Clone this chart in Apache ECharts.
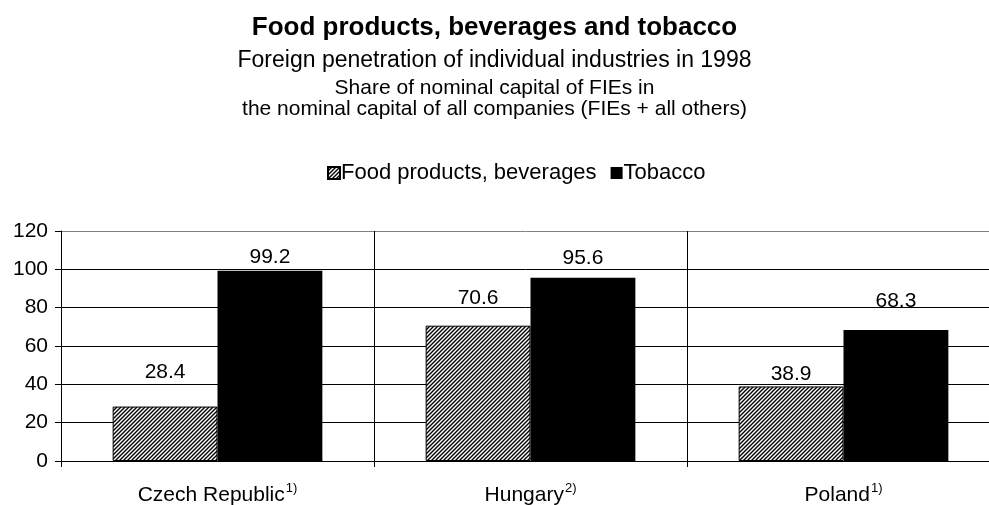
<!DOCTYPE html>
<html>
<head>
<meta charset="utf-8">
<script src="https://cdn.jsdelivr.net/npm/echarts@6/dist/echarts.min.js"></script>
<style>
  html, body { margin: 0; padding: 0; background: #fff; }
  #chart { width: 989px; height: 505px; }
</style>
</head>
<body>
<div id="chart"></div>
<script>
// Countries with their footnote markers
const countries = ['Czech Republic', 'Hungary', 'Poland'];
const footnotes = ['1)', '2)', '1)'];

// Share of nominal capital of FIEs (%)
const foodValues = [28.4, 70.6, 38.9];
const tobaccoValues = [99.2, 95.6, 68.3];

const yTicks = [0, 20, 40, 60, 80, 100, 120];

// Label offsets above each bar (px)
const foodLabelGap = [24, 17, 2];
const tobaccoLabelGap = [3, 9, 18];

// Diagonal hatch fill used for the food series
function hatchPattern() {
  const c = document.createElement('canvas');
  c.width = 4; c.height = 4;
  const ctx = c.getContext('2d');
  ctx.fillStyle = '#fff';
  ctx.fillRect(0, 0, 4, 4);
  ctx.strokeStyle = '#000';
  ctx.lineWidth = 1.4;
  ctx.beginPath();
  ctx.moveTo(-1, 5); ctx.lineTo(5, -1);
  ctx.moveTo(-1, 1); ctx.lineTo(1, -1);
  ctx.moveTo(3, 5); ctx.lineTo(5, 3);
  ctx.stroke();
  return c;
}
const hatch = { image: hatchPattern(), repeat: 'repeat' };

const FONT = 'Liberation Sans, Arial, sans-serif';
const TXT = 21;

function withLabelGaps(values, gaps) {
  return values.map((v, i) => ({ value: v, label: { distance: gaps[i] } }));
}

const chart = echarts.init(document.getElementById('chart'), null, { renderer: 'canvas' });

chart.setOption({
  animation: false,
  backgroundColor: '#fff',
  textStyle: { fontFamily: FONT, color: '#000' },
  title: [
    { text: 'Food products, beverages and tobacco', left: 'center', top: 10,
      textStyle: { fontFamily: FONT, fontSize: 26, fontWeight: 'bold', color: '#000' } },
    { text: 'Foreign penetration of individual industries in 1998', left: 'center', top: 44,
      textStyle: { fontFamily: FONT, fontSize: 23, fontWeight: 'normal', color: '#000' } },
    { text: 'Share of nominal capital of FIEs in', left: 'center', top: 73,
      textStyle: { fontFamily: FONT, fontSize: 21, fontWeight: 'normal', color: '#000' } },
    { text: 'the nominal capital of all companies (FIEs + all others)', left: 'center', top: 94,
      textStyle: { fontFamily: FONT, fontSize: 21, fontWeight: 'normal', color: '#000' } }
  ],
  legend: {
    top: 157, left: 322,
    itemWidth: 12, itemHeight: 12, itemGap: 14,
    icon: 'rect',
    textStyle: { fontFamily: FONT, fontSize: 22, color: '#000', padding: [0, 0, 0, -4] },
    data: ['Food products, beverages', 'Tobacco']
  },
  grid: { left: 61, width: 939, top: 231, bottom: 44, containLabel: false, outerBoundsMode: 'none' },
  xAxis: {
    type: 'category',
    data: countries,
    boundaryGap: true,
    axisLine: { show: true, lineStyle: { color: '#000', width: 1 } },
    axisTick: { show: true, length: 6, lineStyle: { color: '#000' } },
    splitLine: { show: true, lineStyle: { color: '#000', width: 1 } },
    axisLabel: {
      margin: 21,
      fontFamily: FONT,
      formatter: function (v, i) { return v + '{sup|' + footnotes[i] + '}'; },
      rich: {
        sup: { fontSize: 13, verticalAlign: 'top', padding: [0, 0, 14, 1], fontFamily: FONT, color: '#000' }
      },
      fontSize: TXT, color: '#000'
    }
  },
  yAxis: {
    type: 'value',
    min: yTicks[0], max: yTicks[yTicks.length - 1], interval: 20,
    axisLine: { show: true, lineStyle: { color: '#000', width: 1 } },
    axisTick: { show: true, length: 6, inside: false, lineStyle: { color: '#000' } },
    splitLine: { show: true, lineStyle: { color: ['#000', '#000', '#000', '#000', '#000', '#000', '#808080'], width: 1 } },
    axisLabel: { fontFamily: FONT, fontSize: TXT, color: '#000', margin: 13 }
  },
  series: [
    {
      name: 'Food products, beverages',
      type: 'bar',
      data: withLabelGaps(foodValues, foodLabelGap),
      barGap: '0%',
      barCategoryGap: '33%',
      itemStyle: { color: hatch, borderColor: '#000', borderWidth: 1 },
      label: { show: true, position: 'top', fontFamily: FONT, fontSize: TXT, color: '#000' }
    },
    {
      name: 'Tobacco',
      type: 'bar',
      data: withLabelGaps(tobaccoValues, tobaccoLabelGap),
      itemStyle: { color: '#000' },
      label: { show: true, position: 'top', fontFamily: FONT, fontSize: TXT, color: '#000' }
    }
  ]
});
</script>
</body>
</html>
